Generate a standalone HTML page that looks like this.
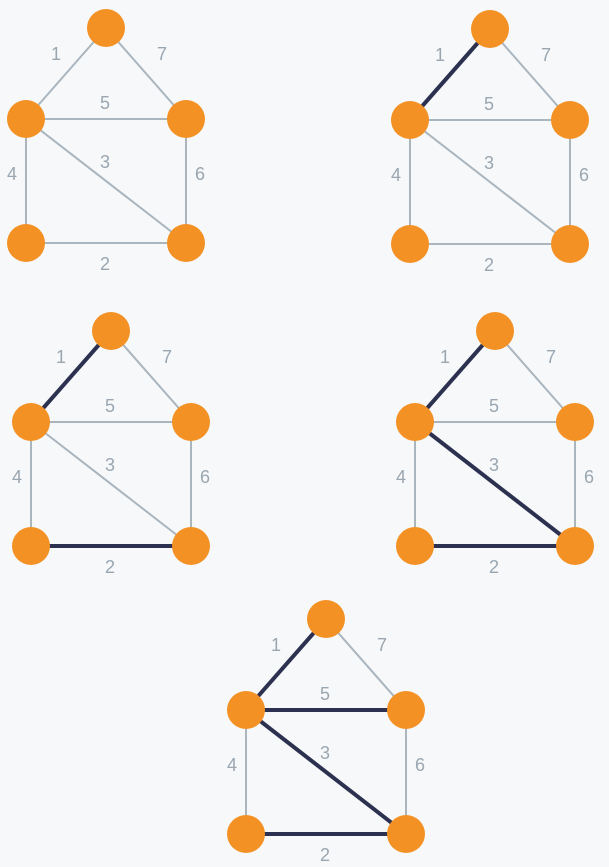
<!DOCTYPE html>
<html><head><meta charset="utf-8"><style>
html,body{margin:0;padding:0;background:#f6f8fa;}
svg{display:block;}
text{font-family:"Liberation Sans",sans-serif;font-size:18px;fill:#9aa6b0;text-anchor:middle;dominant-baseline:middle;}
</style></head><body>
<svg id="c" width="609" height="867"></svg>
<script>
const nodeNames=['top','left','right','bottomLeft','bottomRight'];
const nodeX=[106,26,186,26,186];
const nodeY=[28,119,119,243,243];
const edgeFrom=[0,0,1,1,1,2,3];
const edgeTo=[1,2,2,4,3,4,4];
const edgeWeights=[1,7,5,3,4,6,2];
const labelX=[56,162,105,105,12,200,105];
const labelY=[55,55,104,163,175,175,265];
const panelDX=[0,384,5,389,220];
const panelDY=[0,1,303,303,591];
const selectedWeights=[[],[1],[1,2],[1,2,3],[1,2,3,5]];
const NS='http://www.w3.org/2000/svg';
const svg=document.getElementById('c');
function mk(t,a,p){const e=document.createElementNS(NS,t);for(const k in a)e.setAttribute(k,a[k]);p.appendChild(e);return e;}
panelDX.forEach((dx,p)=>{
  const dy=panelDY[p];
  const g=mk('g',{},svg);
  
  
  edgeFrom.forEach((a,i)=>{
    const b=edgeTo[i];
    const sel=selectedWeights[p].includes(edgeWeights[i]);
    const l=mk('line',{x1:nodeX[a]+dx,y1:nodeY[a]+dy,x2:nodeX[b]+dx,y2:nodeY[b]+dy,stroke:sel?'#2d3150':'#aab5be','stroke-width':sel?4:2},g);
    
    
    const t=mk('text',{x:labelX[i]+dx,y:labelY[i]+dy},g);
    t.textContent=edgeWeights[i];
    
    
  });
  nodeX.forEach((x,i)=>{
    const c=mk('circle',{cx:x+dx,cy:nodeY[i]+dy,r:19,fill:'#f39124'},g);
    
    
  });
});
</script>
</body></html>
